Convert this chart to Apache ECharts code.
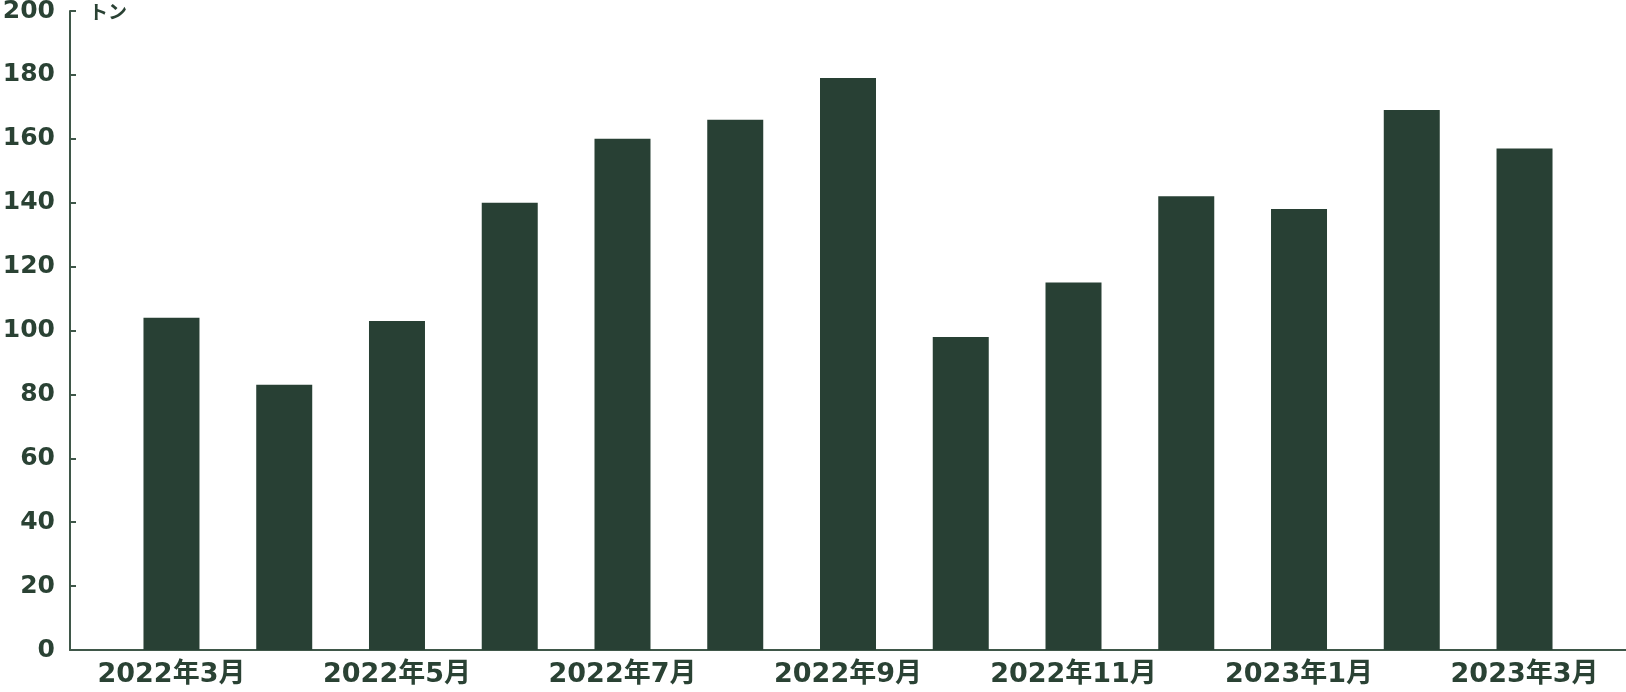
<!DOCTYPE html>
<html>
<head>
<meta charset="utf-8">
<script src="https://cdn.jsdelivr.net/npm/echarts@6/dist/echarts.min.js"></script>
<style>html,body{margin:0;padding:0;background:#fff}#c{width:1626px;height:692px}</style>
</head>
<body>
<div id="c"></div>
<script>
const categories = ['2022年3月','2022年4月','2022年5月','2022年6月','2022年7月','2022年8月','2022年9月','2022年10月','2022年11月','2022年12月','2023年1月','2023年2月','2023年3月'];
const values = [104, 83, 103, 140, 160, 166, 179, 98, 115, 142, 138, 169, 157];
const labelIndices = [0, 2, 4, 6, 8, 10, 12];
const yTicks = { min: 0, max: 200, interval: 20 };
const unitLabel = 'トン';

const textColor = '#2a4234';
const barColor = '#284034';
const axisColor = '#3f5749';
const fontFamily = '"DejaVu Sans", "Noto Sans CJK JP", sans-serif';

const chart = echarts.init(document.getElementById('c'), null, { renderer: 'canvas' });
chart.setOption({
  animation: false,
  backgroundColor: '#ffffff',
  grid: { left: 70, right: 0, top: 11, bottom: 42, containLabel: false, outerBoundsMode: 'none' },
  xAxis: {
    type: 'value',
    min: -0.9,
    max: 12.9,
    splitLine: { show: false },
    axisLine: { show: true, onZero: false, lineStyle: { color: axisColor, width: 2 } },
    axisTick: { show: false },
    axisLabel: {
      customValues: labelIndices,
      formatter: v => categories[Math.round(v)] || '',
      color: textColor,
      fontFamily: fontFamily,
      fontWeight: 'bold',
      fontSize: 27,
      margin: 11,
      showMinLabel: true,
      showMaxLabel: true
    }
  },
  yAxis: {
    type: 'value',
    min: yTicks.min,
    max: yTicks.max,
    interval: yTicks.interval,
    name: unitLabel,
    nameLocation: 'end',
    nameGap: -3,
    nameTextStyle: {
      color: textColor,
      fontFamily: fontFamily,
      fontWeight: 'bold',
      fontSize: 19,
      align: 'left',
      verticalAlign: 'middle',
      padding: [0, 0, 0, 19]
    },
    splitLine: { show: false },
    axisLine: { show: true, onZero: false, lineStyle: { color: axisColor, width: 2 } },
    axisTick: { show: true, inside: true, length: 6, lineStyle: { color: axisColor, width: 2 } },
    axisLabel: {
      color: textColor,
      fontFamily: fontFamily,
      fontWeight: 'bold',
      fontSize: 25,
      margin: 15
    }
  },
  series: [{
    type: 'bar',
    data: values.map((v, i) => [i, v]),
    barWidth: 56,
    itemStyle: { color: barColor },
    silent: true
  }]
});
</script>
</body>
</html>
